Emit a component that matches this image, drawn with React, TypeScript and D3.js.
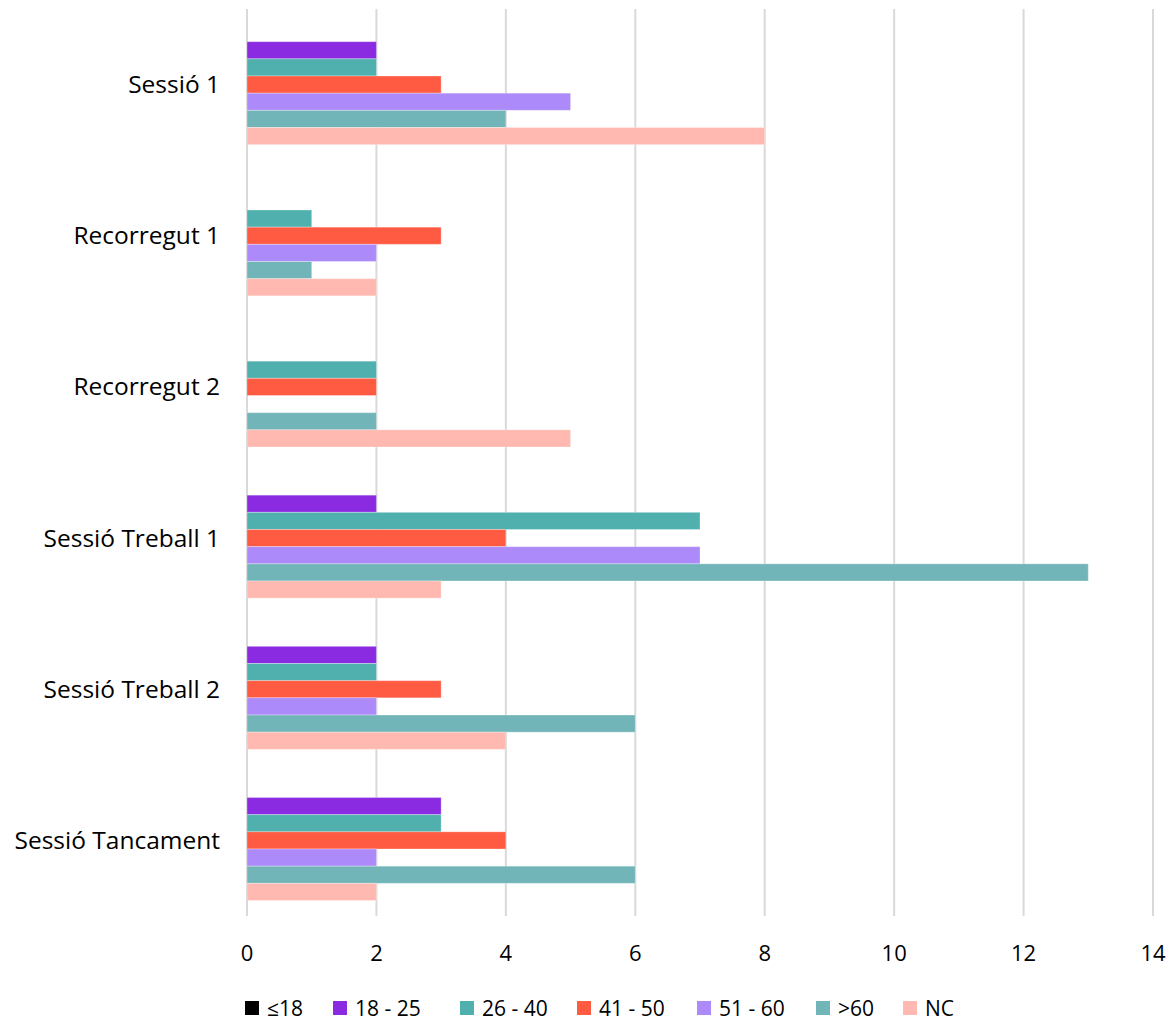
import React from "react";
import * as d3 from "d3";

const categories = ["Sessió 1", "Recorregut 1", "Recorregut 2", "Sessió Treball 1", "Sessió Treball 2", "Sessió Tancament"];
const seriesNames = ["≤18", "18 - 25", "26 - 40", "41 - 50", "51 - 60", ">60", "NC"];
const seriesColors = ["#000000", "#8a2be2", "#4fb0ae", "#ff5a42", "#ad8af9", "#72b5b9", "#ffb9b0"];
const vLe18 = [0, 0, 0, 0, 0, 0];
const v18_25 = [2, 0, 0, 2, 2, 3];
const v26_40 = [2, 1, 2, 7, 2, 3];
const v41_50 = [3, 3, 2, 4, 3, 4];
const v51_60 = [5, 2, 0, 7, 2, 2];
const vGt60 = [4, 1, 2, 13, 6, 6];
const vNC = [8, 2, 5, 3, 4, 2];
const seriesValues = [vLe18, v18_25, v26_40, v41_50, v51_60, vGt60, vNC];
const xTicks = [0, 2, 4, 6, 8, 10, 12, 14];

const W = 1173, H = 1023;
const FONT = "'Open Sans', 'Noto Sans', sans-serif";

export default function App() {
  const x = d3.scaleLinear().domain([0, 14]).range([247, 1153]);
  const y = d3.scaleBand<string>().domain(categories).range([9, 916]).padding(0);
  const inner = d3.scaleBand<string>().domain(seriesNames).range([15.5, y.bandwidth() - 15.5]).padding(0);
  const legendX = [245, 333, 460, 577, 697, 816, 903];
  return (
    <svg width={W} height={H} style={{ position: "absolute", left: 0, top: 0, fontFamily: FONT }}>
      <rect width={W} height={H} fill="#fff" />
      {xTicks.map((t) => (
        <g key={t}>
          <line x1={x(t)} x2={x(t)} y1={9} y2={916} stroke="#d9d9d9" strokeWidth={2} />
          <text x={x(t)} y={961} textAnchor="middle" fontSize={22} fill="#000">{t}</text>
        </g>
      ))}
      {categories.map((c, ci) => (
        <g key={c} transform={`translate(0,${y(c)})`}>
          <text x={220} y={y.bandwidth() / 2 + 8.5} textAnchor="end" fontSize={24.5} fill="#000">{c}</text>
          {seriesNames.map((s, si) => {
            const v = seriesValues[si][ci];
            if (!v) return null;
            return (
              <rect key={s} x={x(0)} y={inner(s)} width={x(v) - x(0)} height={inner.bandwidth()}
                fill={seriesColors[si]} stroke="#ffffff" strokeOpacity={0.3} strokeWidth={1} />
            );
          })}
        </g>
      ))}
      {seriesNames.map((s, si) => (
        <g key={s} transform={`translate(${legendX[si]},1001)`}>
          <rect width={14} height={14} fill={seriesColors[si]} />
          <text x={22} y={15} fontSize={21} fill="#000">{s}</text>
        </g>
      ))}
    </svg>
  );
}
